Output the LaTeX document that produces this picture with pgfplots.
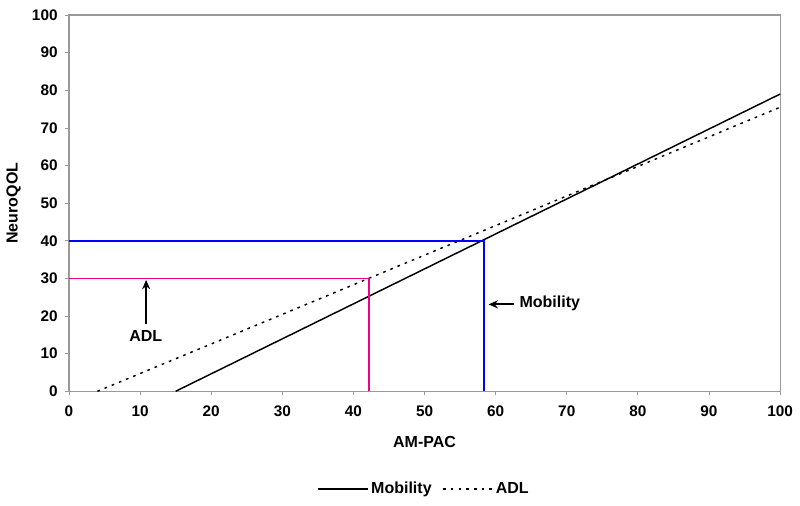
\documentclass[border=0pt]{standalone}
\usepackage{pgfplots}
\pgfplotsset{compat=1.18}
\usepackage{fontspec}
\setmainfont{Liberation Sans}
\usetikzlibrary{arrows.meta}
\begin{document}
\begin{tikzpicture}
\begin{axis}[
  scale only axis, width=533pt, height=282pt,
  xmin=0, xmax=100, ymin=0, ymax=100,
  xtick={0,10,...,100}, ytick={0,10,...,100},
  axis line style={draw=gray!80, line width=0.9pt},
  tick style={draw=gray!80, line width=0.6pt},
  tick align=outside, major tick length=3pt,
  xtick pos=bottom, ytick pos=left,
  /pgf/number format/assume math mode=true,
  ticklabel style={font=\fontsize{11.5}{13}\selectfont\bfseries},
  xticklabel style={yshift=-4.5pt},
  yticklabel style={xshift=-2pt},
  label style={font=\fontsize{12}{14}\selectfont\bfseries},
  xlabel={AM-PAC}, ylabel={NeuroQOL},
  xlabel style={at={(axis description cs:0.5,-0.135)}, anchor=center},
  ylabel style={at={(axis description cs:-0.078,0.5)}, anchor=center},
  clip=false,
  legend style={at={(axis description cs:0.5,-0.26)}, anchor=center, draw=none,
    font=\fontsize{12}{14}\selectfont\bfseries, legend columns=2,
    /tikz/every even column/.append style={column sep=6pt}},
  legend image code/.code={\draw[#1] (0cm,0cm) -- (1.3cm,0cm);},
]
\addplot[black, line width=1.1pt] coordinates {(15,0) (100,79)};
\addlegendentry{Mobility}
\addplot[black, line width=1.1pt, dash pattern=on 2pt off 3.8pt] coordinates {(4,0) (100,75.5)};
\addlegendentry{ADL}
\addplot[blue, line width=1.2pt, forget plot] coordinates {(0,40) (58.4,40) (58.4,0)};
\addplot[magenta, line width=1.2pt, forget plot] coordinates {(0,30) (42.2,30) (42.2,0)};
\draw[-{Stealth[length=7pt,width=6pt]}, line width=1.6pt] (axis cs:10.85,17.8) -- (axis cs:10.85,29.6);
\node[font=\fontsize{12}{14}\selectfont\bfseries] at (axis cs:10.8,14.6) {ADL};
\draw[-{Stealth[length=7pt,width=6pt]}, line width=1.6pt] (axis cs:62.6,23.1) -- (axis cs:59,23.1);
\node[font=\fontsize{12}{14}\selectfont\bfseries, anchor=west] at (axis cs:62.7,23.3) {Mobility};
\path[draw=none] (rel axis cs:-0.097,-0.303) rectangle (rel axis cs:1.028,1.04);
\end{axis}
\end{tikzpicture}
\end{document}
